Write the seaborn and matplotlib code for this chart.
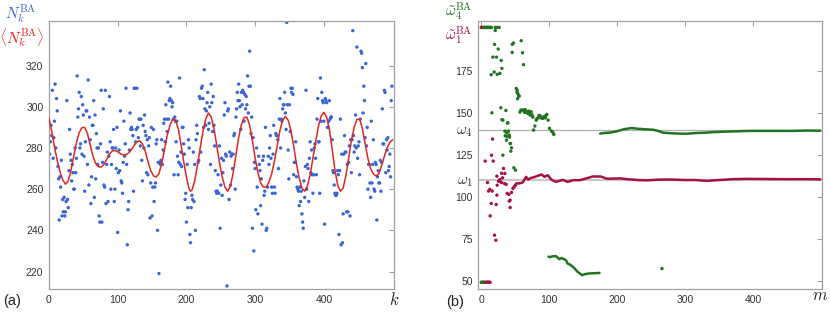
import numpy as np
import matplotlib
matplotlib.use("Agg")
import matplotlib.pyplot as plt
import seaborn as sns

# --- DATA ---
# panel (a): one N_k value per k = 0, 1, 2, ...
n_part1 = [286, 277, 283, 291, 286, 308, 275, 285, 293, 311, 280, 304, 298,
           271, 265, 245, 266, 261, 274, 247, 255, 249, 256,
           247, 249, 254, 303, 255, 251, 269, 289, 277, 274,
           264, 272, 268, 260, 260, 280, 268, 275, 315, 295,
           299, 307, 280, 282, 305, 277, 301, 296, 276, 259,
           283, 298, 298, 272, 313, 262, 295, 284, 253, 266,
           291, 291, 303, 256, 296, 265, 287, 280, 272, 280,
           247, 244, 282, 308, 244, 273, 299, 262, 261, 308,
           253, 272, 278, 254, 276, 305, 283, 260, 272, 280,
           280, 289, 254, 260, 280, 270, 290, 239, 268, 279,
           269, 298, 264, 263, 258, 273, 293, 276, 282, 309,
           272, 233, 250, 254, 279, 297, 289, 290, 289, 286,
           259, 309, 309, 283, 289, 309, 290, 285, 294, 294,
           281, 294, 274, 264, 291, 280, 296, 288, 286, 268,
           284, 267, 281, 285, 246, 263, 290, 247, 261, 289,
           254, 261, 263, 282, 284, 240, 273, 219, 273]
n_part2 = [272, 274, 284, 272, 279, 292, 294, 283, 301, 294,
           288, 312, 294, 303, 304, 310, 303, 300, 302, 294,
           267, 295, 293, 283, 293, 276, 267, 273, 314, 272,
           278, 271, 290, 290, 282, 277, 255, 258, 244, 272,
           251, 284, 280, 238, 234, 251, 257, 255, 278, 254,
           272, 240, 284, 291, 287, 273, 274, 305, 304, 278,
           309, 310, 304, 290, 318, 299, 291, 298, 302, 307,
           289, 292, 300, 272, 311, 302, 288, 305, 291, 281,
           269, 259, 258, 259, 267, 258, 281, 241, 262, 275,
           257, 268, 274, 296, 302, 277, 276, 213, 298, 299,
           255, 278, 262, 276, 277, 270, 277, 286, 287, 260,
           295, 299, 307, 303, 311, 303, 300, 289, 307, 301,
           308, 307, 293, 306, 299, 305, 301, 315, 297, 310,
           327, 310, 287, 295, 241, 285, 230, 273, 270, 250,
           280, 261, 248, 276, 272, 269, 252, 265, 243, 274,
           276, 257, 259, 290, 240, 241, 261, 276, 272, 280,
           286, 275, 261, 258]
n_part3 = [277, 291, 261, 258, 287, 286, 286, 284, 270, 294,
           304, 280, 294, 293, 299, 301, 301, 307, 297, 289,
           341, 301, 279, 265, 301, 288, 309, 307, 309, 306,
           267, 273, 273, 283, 266, 261, 260, 259, 252, 261,
           254, 259, 248, 244, 241, 264, 256, 271, 308, 260,
           272, 270, 254, 275, 283, 268, 279, 267, 258, 267,
           280, 282, 275, 267, 294, 304, 283, 283, 258, 314,
           293, 307, 303, 302, 293, 243, 304, 303, 302, 290,
           290, 293, 303, 294, 295, 295, 284, 269, 268, 262,
           258, 257, 257, 258, 269, 267, 238, 269, 294, 233,
           277, 234, 248, 277, 286, 278, 278, 249, 272, 249,
           273, 281, 247, 284, 268, 284, 337, 286, 278, 281,
           296, 280, 329, 275, 281, 283, 267, 294, 327, 326,
           319, 297, 310, 303, 285, 321, 281, 290, 260, 272,
           272, 263, 256, 293, 263, 272, 284, 260, 259, 273,
           272, 245, 266, 269, 263, 263, 274, 259, 273, 299,
           282, 282, 308, 307, 268, 284, 279, 285, 269, 271,
           277, 266, 303, 310]
n_values = n_part1 + n_part2 + n_part3

# panel (a): smooth mean curve <N_k>
mean_k = [0, 4, 8, 12, 16, 20, 24, 28, 32, 36, 40, 44, 48, 52, 56, 60, 64, 68,
          72, 76, 80, 84, 88, 92, 96, 100, 104, 108, 112, 116, 120, 124, 128,
          132, 136, 140, 144, 148, 152, 156, 160, 164, 168, 172, 176, 180, 184,
          188, 192, 196, 200, 204, 206, 208, 212, 216, 220, 224, 228, 232, 236,
          240, 244, 248, 252, 256, 260, 264, 268, 272, 276, 280, 284, 288, 292,
          296, 300, 304, 308, 312, 316, 320, 324, 328, 332, 336, 340, 344, 348,
          352, 356, 360, 364, 368, 372, 376, 380, 384, 388, 392, 396, 400, 404,
          408, 412, 416, 420, 424, 428, 432, 436, 440, 444, 448, 452, 456, 460,
          464, 468, 472, 476, 480, 484, 488, 492, 496, 500]
mean_v = [294.5, 288, 280.5, 274, 268.5, 264.5, 262.4, 264, 269, 276, 282.5,
          287.5, 289.8, 290, 287, 281.5, 276, 272.5, 270.9, 270.7, 272, 274.5,
          277, 278.6, 278.8, 278.2, 277.2, 276.6, 276.7, 277.6, 279.2, 281.3,
          283, 283.5, 282, 278.5, 273.5, 269, 266.5, 265.9, 267.5, 272.5, 279,
          286, 291, 294, 293.5, 289.5, 282, 273.5, 265.8, 260, 259, 259.5, 264,
          271.5, 280, 288, 294, 297, 295, 289.5, 281.5, 273, 266, 261, 259,
          261.5, 268, 276.5, 285, 291.5, 294.8, 295, 291, 283.5, 275, 268, 263,
          261, 261, 263.5, 267.5, 273.5, 281, 288.5, 293.5, 295.3, 293.5,
          288.5, 281, 272.5, 265.5, 260.5, 259, 261.5, 267, 275, 283, 290.5,
          295.5, 297.3, 295, 289, 279.5, 269.5, 262, 259, 260.5, 266.5, 275,
          283.5, 290, 293.8, 294, 289.5, 282, 275, 270, 267.3, 266.4, 267.5,
          271.5, 276, 280, 282.7, 284]

# panel (b): scattered early estimates of omega_4 (green)
g_m = [1, 2, 3, 4, 5, 6, 7, 8, 9, 10, 11, 12, 13, 14, 15,
       20.6, 23, 26.5, 20.6, 19.6, 25, 17.2, 22.5, 29.4, 30.4, 14.7, 19.1, 23.5, 27.4,
       47.5, 45.6, 45.6, 58.8, 60.8, 62.2,
       51.5, 52.5, 53, 54, 55, 53.5, 56,
       15.7, 28.9, 36.3, 31.9, 39.2, 34.8, 37.7, 41.2, 35.3, 37.2, 43.1, 44.6,
       43.6, 31.9, 48, 50.5,
       30.4, 38.7, 36.8, 40.2, 37.8, 41.6, 42.6,
       57, 58.5, 60.3, 62.2, 63.7, 64.5, 66.2, 67.5, 68.6, 70.1, 71, 72, 73.5,
       75, 76, 77, 79, 80.9, 82, 83.3, 85, 86.7, 88, 89.7, 91, 92.1, 94.6, 95,
       96.5, 98.5, 100.5, 103.4, 105.4, 106.8,
       0, 1, 2, 3, 4, 5, 266]
g_v = [201, 201, 201, 201, 201, 201, 201, 201, 201, 201, 201, 201, 201, 201, 201,
       201, 201, 201, 199.2, 190.9, 188.1, 183.3, 183.3, 181.3, 176.6, 172.8,
       174.4, 173, 173.6,
       191.7, 190.9, 186.1, 193.1, 185.9, 178.8,
       164.6, 162.5, 163.6, 161.5, 160.3, 158.5, 160,
       150.1, 153.1, 151.5, 145.7, 144.1, 139.2, 138.2, 136.8, 136.4, 133.8,
       131.8, 129.2, 127.2, 124.8, 117.3, 115.9,
       146, 144, 138.6, 139.2, 136, 135.6, 131.7,
       150.5, 151.7, 151.7, 151.7, 150.3, 152, 151.1, 150.2, 149.7, 151.1, 150,
       148.7, 150.7, 148.8, 147.5, 139.8, 142.2, 145.7, 146.5, 147.1, 148.5,
       148.3, 147, 147.1, 146.8, 147.7, 147.1, 148.5, 149.1, 145.7, 140.8,
       139.2, 138.4, 137.2,
       49, 49, 49, 49, 49, 49, 57.2]

# panel (b): scattered early estimates of omega_1 (crimson)
r_m = [0, 7, 8, 9, 10, 11, 12, 13,
       16.7, 5.9, 15.2, 17.6, 32.8, 34.8, 9.3, 12.7, 10.8, 16.2,
       14.7, 23, 22, 13.2, 19.6, 21.6,
       23.5, 25.5, 27.4, 29.9, 31.4, 34.3, 36.7, 38.2, 40.7, 42.6,
       41.2, 42.6, 44.6, 46.6, 48.5, 50.5, 23, 30, 28]
r_v = [201, 49, 49, 49, 49, 49, 49, 49,
       134.4, 121.3, 124.8, 121.3, 116.9, 113.9, 108.5, 104.4, 103.4, 103.4,
       96, 101, 95.4, 88.6, 77.1, 74.1,
       106.9, 109.3, 110.3, 108.5, 111.3, 107.9, 107.4, 102, 101.4, 98,
       97.4, 93.6, 102.6, 105, 106, 107, 112.3, 114, 109]

# panel (b): settled traces
red_m = [51.5, 56, 61, 64, 66, 69, 73.5, 78, 83, 89, 93, 98, 103, 110, 120, 127,
         135, 145, 154, 164, 176, 184, 190, 204, 215, 230, 244, 260, 278, 300,
         315, 332, 350, 370, 391, 420, 450, 475, 499]
red_v = [108, 108, 108.5, 110.5, 111.9, 110.3, 111.3, 111.7, 112.5, 113.3,
         111.9, 112.9, 110.3, 108.9, 110.1, 108.9, 109.9, 109.9, 110.9, 112.1,
         112.1, 110.9, 110.8, 111, 110.5, 110, 109.8, 110.2, 110.3, 110, 110,
         109.5, 110, 110.5, 110.7, 110.6, 110.5, 110.5, 110.4]
green_low_m = [99, 101, 105, 110, 115, 118, 122, 125, 127, 131, 135, 139, 142,
               146, 148.5, 152, 157, 165, 174]
green_low_v = [64.3, 64, 64.5, 64.6, 62.8, 63.5, 62.8, 62, 60.2, 59.5, 58.2,
               56.5, 55.2, 54, 53.2, 53.8, 54.2, 54.4, 54.6]
green_high_m = [175, 180, 190, 200, 210, 221, 230, 240, 253, 260, 268, 280,
                290, 302, 315, 327, 340, 355, 371, 385, 400, 420, 440, 460,
                480, 499]
green_high_v = [137.7, 138, 138.3, 139.1, 140.3, 141, 140.6, 140.3, 140, 139.3,
                138.2, 137.9, 137.7, 137.6, 138, 138.2, 138.5, 138.8, 139,
                139.2, 139.3, 139.3, 139.3, 139.3, 139.5, 139.4]

omega_1 = 110
omega_4 = 140

# --- STYLE ---
BLUE = "#3a66d4"
RED = "#e3261f"
GREEN = "#237323"
CRIMSON = "#a3143f"
SPINE = "#a0a0a0"

sns.set_style("white")
plt.rcParams["font.family"] = ["Liberation Sans", "DejaVu Sans"]
plt.rcParams["mathtext.fontset"] = "cm"


def style_axes(ax):
    for sp in ax.spines.values():
        sp.set_color(SPINE)
        sp.set_linewidth(0.9)
    ax.tick_params(direction="in", top=True, right=True, length=3.5,
                   width=0.8, color=SPINE, labelsize=7.5, labelcolor="#333333",
                   pad=4)


fig = plt.figure(figsize=(8.3, 3.16), dpi=100)
ax1 = fig.add_axes([0.059, 0.0854, 0.4157, 0.849])
ax2 = fig.add_axes([0.5765, 0.0854, 0.4139, 0.849])

# panel (a)
k = np.arange(len(n_values))
sns.scatterplot(x=k, y=n_values, ax=ax1, s=6, color=BLUE, edgecolor="none",
                linewidth=0, zorder=2)
sns.lineplot(x=mean_k, y=mean_v, ax=ax1, color=RED, linewidth=1.1,
             sort=False, estimator=None, zorder=3)
ax1.set_xlim(0, 502)
ax1.set_ylim(211.5, 341.8)
ax1.set_xticks([0, 100, 200, 300, 400])
ax1.set_yticks([220, 240, 260, 280, 300, 320])
style_axes(ax1)
ax1.text(1.0, -0.04, r"$k$", transform=ax1.transAxes, ha="center",
         va="center", fontsize=12)

# panel (b)
ax2.axhline(omega_4, color="#b0b0b0", linewidth=0.9, zorder=1)
ax2.axhline(omega_1, color="#c8c8c8", linewidth=1.6, zorder=1)
sns.lineplot(x=red_m, y=red_v, ax=ax2, color=CRIMSON, linewidth=1.8,
             sort=False, estimator=None, zorder=3)
sns.lineplot(x=green_low_m, y=green_low_v, ax=ax2, color=GREEN, linewidth=1.8,
             sort=False, estimator=None, zorder=3)
sns.lineplot(x=green_high_m, y=green_high_v, ax=ax2, color=GREEN,
             linewidth=1.8, sort=False, estimator=None, zorder=3)
sns.scatterplot(x=g_m, y=g_v, ax=ax2, s=6, color=GREEN, edgecolor="none",
                linewidth=0, zorder=4)
sns.scatterplot(x=r_m, y=r_v, ax=ax2, s=6, color=CRIMSON, edgecolor="none",
                linewidth=0, zorder=4)
ax2.set_xlim(-4, 501.5)
ax2.set_ylim(45, 205)
ax2.set_xticks([0, 100, 200, 300, 400])
ax2.set_yticks([50, 75, 100, omega_1, 125, omega_4, 150, 175])
ax2.set_yticklabels(["50", "75", "100", r"$\omega_1$", "125", r"$\omega_4$",
                     "150", "175"])
style_axes(ax2)
for lab in ax2.get_yticklabels():
    if "omega" in lab.get_text():
        lab.set_fontsize(11)
ax2.text(0.995, -0.026, r"$m$", transform=ax2.transAxes, ha="center",
         va="center", fontsize=12)

# corner labels
fig.text(0.025, 0.958, r"$N_k^{\rm BA}$", color=BLUE, ha="center",
         va="center", fontsize=11)
fig.text(0.026, 0.88, r"$\langle N_k^{\rm BA}\rangle$", color=RED,
         ha="center", va="center", fontsize=11)
fig.text(0.553, 0.962, r"$\tilde{\omega}_4^{\rm BA}$", color=GREEN,
         ha="center", va="center", fontsize=11)
fig.text(0.553, 0.885, r"$\tilde{\omega}_1^{\rm BA}$", color=CRIMSON,
         ha="center", va="center", fontsize=11)
fig.text(0.015, 0.047, "(a)", ha="center", va="center", fontsize=10.5,
         color="#222222")
fig.text(0.548, 0.044, "(b)", ha="center", va="center", fontsize=10.5,
         color="#222222")

fig.savefig("out.png", dpi=100)
